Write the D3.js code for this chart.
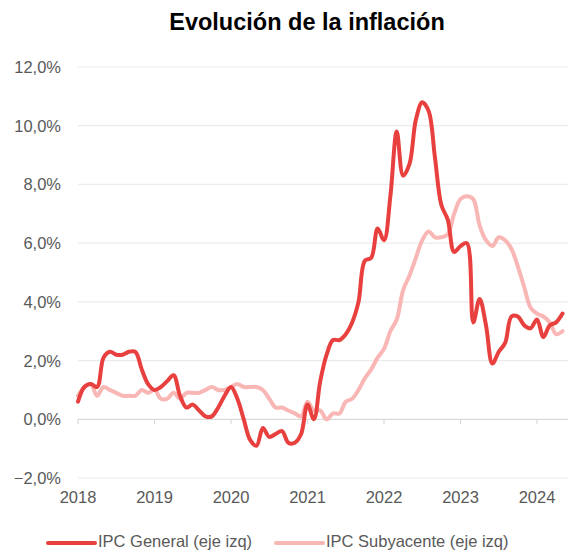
<!DOCTYPE html>
<html>
<head>
<meta charset="utf-8">
<script src="https://cdn.jsdelivr.net/npm/d3@7.9.0/dist/d3.min.js"></script>
<style>
  body { margin: 0; background: #fff; }
  svg { display: block; font-family: "Liberation Sans", Arial, sans-serif; }
</style>
</head>
<body>
<svg id="chart" width="568" height="551"></svg>
<script>
// monthly data, Jan 2018 -> May 2024
const startYear = 2018;
const yearTicks = [2018, 2019, 2020, 2021, 2022, 2023, 2024];
const yTicks = [-2, 0, 2, 4, 6, 8, 10, 12];

const ipcGeneral = [
  0.6, 1.1, 1.2, 1.1, 2.1, 2.3, 2.2, 2.2, 2.3, 2.3, 1.7, 1.2,
  1.0, 1.1, 1.3, 1.5, 0.8, 0.4, 0.5, 0.3, 0.1, 0.1, 0.4, 0.8,
  1.1, 0.7, 0.0, -0.7, -0.9, -0.3, -0.6, -0.5, -0.4, -0.8, -0.8, -0.5,
  0.5, 0.0, 1.3, 2.2, 2.7, 2.7, 2.9, 3.3, 4.0, 5.4, 5.5, 6.5,
  6.1, 7.6, 9.8, 8.3, 8.7, 10.2, 10.8, 10.5, 8.9, 7.3, 6.8, 5.7,
  5.9, 6.0, 3.3, 4.1, 3.2, 1.9, 2.3, 2.6, 3.5, 3.5, 3.2, 3.1,
  3.4, 2.8, 3.2, 3.3, 3.6
];

const ipcSubyacente = [
  0.8, 1.1, 1.2, 0.8, 1.1, 1.0, 0.9, 0.8, 0.8, 0.8, 1.0, 0.9,
  1.0, 0.7, 0.7, 0.9, 0.7, 0.9, 0.9, 0.9, 1.0, 1.1, 1.0, 1.0,
  1.1, 1.2, 1.1, 1.1, 1.1, 1.0, 0.7, 0.4, 0.4, 0.3, 0.2, 0.1,
  0.6, 0.3, 0.3, 0.0, 0.2, 0.2, 0.6, 0.7, 1.0, 1.4, 1.7, 2.1,
  2.4, 3.0, 3.4, 4.4, 4.9, 5.5, 6.1, 6.4, 6.2, 6.2, 6.3, 7.0,
  7.5, 7.6, 7.5, 6.6, 6.1, 5.9, 6.2, 6.1, 5.8, 5.2, 4.5, 3.8,
  3.6, 3.5, 3.3, 2.9, 3.0
];

const seriesNames = ['IPC General (eje izq)', 'IPC Subyacente (eje izq)'];
const colors = ['#e8403f', '#f8b6b4'];

const svg = d3.select('#chart');
const margin = { top: 67, right: 0, bottom: 73, left: 78 };
const width = 568, height = 551;

// x in fractional years
let x = d3.scaleLinear()
  .domain([2018, 2024.4])
  .range([margin.left, margin.left + 6.4 * 76.5]);

let y = d3.scaleLinear()
  .domain([-2, 12])
  .range([478, 67]);

const fmt = d => d3.format('.1f')(d).replace('.', ',') + '%';

// title
svg.append('text')
  .attr('x', 307).attr('y', 30)
  .attr('text-anchor', 'middle')
  .attr('font-size', 23.5).attr('font-weight', 'bold')
  .attr('fill', '#000')
  .text('Evolución de la inflación');

// horizontal grid + y labels
yTicks.forEach(t => {
  if (t !== 0) {
    svg.append('line')
      .attr('x1', margin.left).attr('x2', width)
      .attr('y1', y(t)).attr('y2', y(t))
      .attr('stroke', '#ebebeb').attr('stroke-width', 1.2);
  }
  svg.append('text')
    .attr('x', 61).attr('y', y(t) + 6)
    .attr('text-anchor', 'end')
    .attr('font-size', 16.5).attr('fill', '#595959')
    .text(fmt(t));
});

// zero line with year ticks (acts as x axis)
svg.append('line')
  .attr('x1', margin.left).attr('x2', width)
  .attr('y1', y(0)).attr('y2', y(0))
  .attr('stroke', '#d9d9d9').attr('stroke-width', 1.2);

yearTicks.forEach(yr => {
  svg.append('line')
    .attr('x1', x(yr)).attr('x2', x(yr))
    .attr('y1', y(0)).attr('y2', y(0) + 5)
    .attr('stroke', '#d9d9d9').attr('stroke-width', 1.2);
  svg.append('text')
    .attr('x', x(yr)).attr('y', 503)
    .attr('text-anchor', 'middle')
    .attr('font-size', 16.5).attr('fill', '#595959')
    .text(yr);
});

// lines
let line = d3.line()
  .x((d, i) => x(startYear + i / 12))
  .y(d => y(d))
  .curve(d3.curveCatmullRom.alpha(0.5));

[ipcSubyacente, ipcGeneral].forEach((vals, k) => {
  svg.append('path')
    .datum(vals)
    .attr('d', line)
    .attr('fill', 'none')
    .attr('stroke', k === 0 ? colors[1] : colors[0])
    .attr('stroke-width', 4)
    .attr('stroke-linejoin', 'round')
    .attr('stroke-linecap', 'round');
});

// legend
const legendX = [48, 276];
seriesNames.forEach((name, i) => {
  svg.append('line')
    .attr('x1', legendX[i]).attr('x2', legendX[i] + 47)
    .attr('y1', 543).attr('y2', 543)
    .attr('stroke', colors[i]).attr('stroke-width', 4)
    .attr('stroke-linecap', 'round');
  svg.append('text')
    .attr('x', legendX[i] + 50).attr('y', 547)
    .attr('font-size', 16.5).attr('fill', '#595959')
    .text(name);
});
</script>
</body>
</html>
